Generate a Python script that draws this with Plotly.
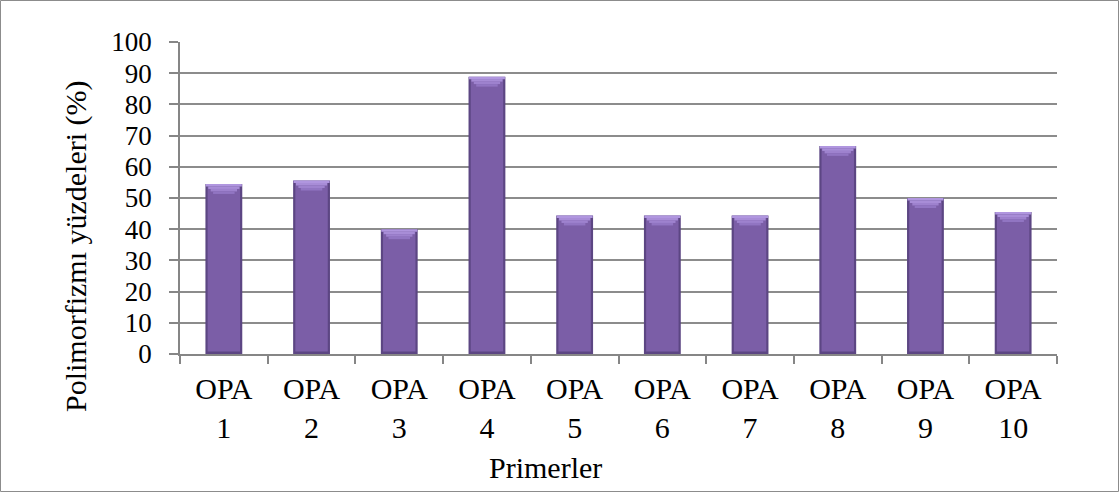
import plotly.graph_objects as go

# Primer names and polymorphism percentages
primers = ["OPA<br>1", "OPA<br>2", "OPA<br>3", "OPA<br>4", "OPA<br>5",
           "OPA<br>6", "OPA<br>7", "OPA<br>8", "OPA<br>9", "OPA<br>10"]
polymorphism = [54.5, 55.6, 40.0, 88.9, 44.4, 44.4, 44.4, 66.7, 50.0, 45.5]

y_ticks = list(range(0, 101, 10))

W, H = 1119, 492
L, R, T, B = 180, 62, 42, 138
pw, ph = W - L - R, H - T - B


def px_x(p):
    """pixel column -> x paper coordinate"""
    return (p - L) / pw


def px_y(p):
    """pixel row -> y paper coordinate"""
    return (T + ph - p) / ph


FONT = "Liberation Serif, Times New Roman, serif"
BAR_W = 0.42
n = len(polymorphism)

fig = go.Figure()

# dark outer body (edges of the bevel)
fig.add_trace(go.Bar(x=primers, y=polymorphism, width=BAR_W,
                     marker=dict(color="#5c4683", line=dict(width=0)),
                     hoverinfo="skip", showlegend=False))
# main face
fig.add_trace(go.Bar(x=primers, y=[v - 1.6 for v in polymorphism],
                     base=[0.8] * n, width=0.37,
                     marker=dict(color="#7b5ea7", line=dict(width=0)),
                     hoverinfo="skip", showlegend=False))
# light bevelled top cap, built as a stepped trapezoid
step = 0.8
cap_layers = [(0.41, "#b096df"), (0.355, "#a88dd7"), (0.30, "#9e82ce"), (0.245, "#9175c2")]
for i, (w, c) in enumerate(cap_layers):
    fig.add_trace(go.Bar(x=primers, y=[step] * n,
                         base=[v - step * (i + 1) for v in polymorphism], width=w,
                         marker=dict(color=c, line=dict(width=0)),
                         hoverinfo="skip", showlegend=False))

fig.update_layout(
    width=W, height=H,
    margin=dict(l=L, r=R, t=T, b=B),
    paper_bgcolor="white", plot_bgcolor="white",
    barmode="overlay",
    font=dict(family=FONT, size=27, color="black"),
    xaxis=dict(
        tickson="boundaries", ticks="outside", ticklen=8, tickcolor="#868686",
        tickwidth=1.5,
        showline=True, linecolor="#868686", linewidth=1.5,
        showgrid=False,
        tickfont=dict(family=FONT, size=30),
        ticklabelstandoff=7,
    ),
    yaxis=dict(
        range=[0, 100], tickvals=y_ticks, ticks="outside", ticklen=9,
        tickcolor="#868686", tickwidth=1.5,
        showline=True, linecolor="#868686", linewidth=1.5,
        showgrid=True, gridcolor="#8c8c8c", gridwidth=1.5,
        tickfont=dict(family=FONT, size=27),
        ticklabelstandoff=12,
        zeroline=False,
    ),
)

# axis titles, centred on the whole chart area
fig.add_annotation(text="Polimorfizmı yüzdeleri (%)", textangle=-90,
                   xref="paper", yref="paper", x=px_x(76), y=px_y(246),
                   xanchor="center", yanchor="middle", showarrow=False,
                   font=dict(family=FONT, size=30, color="black"))
fig.add_annotation(text="Primerler",
                   xref="paper", yref="paper", x=px_x(545), y=px_y(467),
                   xanchor="center", yanchor="middle", showarrow=False,
                   font=dict(family=FONT, size=30, color="black"))

# outer chart border
fig.add_shape(type="rect", xref="paper", yref="paper",
              x0=px_x(0.5), x1=px_x(W - 0.5),
              y0=px_y(H - 0.5), y1=px_y(0.5),
              line=dict(color="#8c8c8c", width=1), layer="below")

fig.write_html("out.html")
